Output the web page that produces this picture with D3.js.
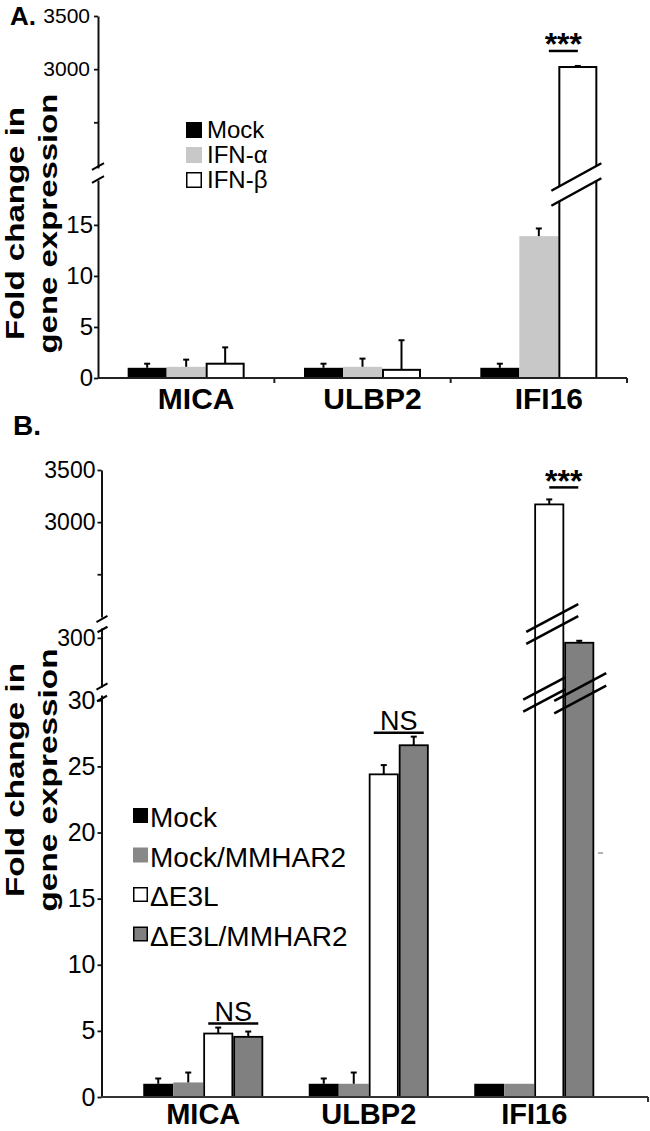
<!DOCTYPE html>
<html><head><meta charset="utf-8">
<script src="https://cdn.jsdelivr.net/npm/d3@7"></script>
<style>
body{margin:0;background:#fff}
svg{display:block}
text{font-family:"Liberation Sans", Arial, Helvetica, sans-serif;fill:#000}
</style>
</head><body>
<svg id="c" width="650" height="1131"></svg>
<script>
// ---------------- DATA ----------------
const categories = ["MICA", "ULBP2", "IFI16"];

// Panel A
const seriesA = ["Mock", "IFN-α", "IFN-β"];
const aMock     = [1.0, 1.0, 1.0];
const aMockErr  = [0.4, 0.4, 0.4];
const aIFNa     = [1.1, 1.1, 13.9];
const aIFNaErr  = [0.7, 0.8, 0.75];
const aIFNb     = [1.4, 0.8, 3020];
const aIFNbErr  = [1.6, 2.9, 10];
const aTicksLow  = [0, 5, 10, 15];
const aTicksHigh = [2500, 3000, 3500];

// Panel B
const seriesB = ["Mock", "Mock/MMHAR2", "ΔE3L", "ΔE3L/MMHAR2"];
const bMock      = [1.0, 1.0, 1.0];
const bMockErr   = [0.4, 0.4, 0];
const bMockMM    = [1.1, 1.0, 1.0];
const bMockMMErr = [0.75, 0.85, 0];
const bDE3L      = [4.8, 24.4, 3170];
const bDE3LErr   = [0.45, 0.7, 48];
const bDE3LMM    = [4.55, 26.6, 290];
const bDE3LMMErr = [0.4, 0.65, 4];
const bTicksLow  = [0, 5, 10, 15, 20, 25, 30];
const bTicksMid  = [300];
const bTicksHigh = [2500, 3000, 3500];

// ---------------- HELPERS ----------------
const svg = d3.select("#c");

function segScale(segs) {
  return v => {
    for (const s of segs) { const d = s.domain(); if (v >= d[0] && v <= d[1]) return s(v); }
    return segs[segs.length - 1](v);
  };
}
function drawAxisSeg(g, scale, ticks, x, fontSize, pad, hideVals) {
  const ax = d3.axisLeft(scale).tickValues(ticks).tickSize(4).tickSizeOuter(0).tickPadding(pad)
    .tickFormat(d => hideVals.includes(d) ? "" : d);
  const a = g.append("g").attr("transform", `translate(${x},0)`).call(ax);
  a.select(".domain").attr("stroke", "#111").attr("stroke-width", 2);
  a.selectAll(".tick line").attr("stroke", "#111").attr("stroke-width", 1.8);
  a.selectAll(".tick text").attr("font-size", fontSize).attr("fill", "#000")
    .style("font-family", '"Liberation Sans", Arial, sans-serif');
}
function slash(g, cx, cy, hw, s, w) {
  g.append("line").attr("x1", cx - hw).attr("y1", cy - s * hw).attr("x2", cx + hw).attr("y2", cy + s * hw)
    .attr("stroke", "#000").attr("stroke-width", w || 2.5);
}
function errBar(g, cx, y0, y1) {
  g.append("line").attr("x1", cx).attr("x2", cx).attr("y1", y0).attr("y2", y1).attr("stroke", "#000").attr("stroke-width", 2);
  g.append("line").attr("x1", cx - 3).attr("x2", cx + 3).attr("y1", y1).attr("y2", y1).attr("stroke", "#000").attr("stroke-width", 2);
}
function yTitle(g, x1, x2, cy, len1, len2) {
  g.append("text").attr("transform", `translate(${x1},${cy}) rotate(-90)`).attr("text-anchor", "middle")
    .attr("font-size", 25).attr("font-weight", "bold").attr("textLength", len1).attr("lengthAdjust", "spacingAndGlyphs")
    .text("Fold change in");
  g.append("text").attr("transform", `translate(${x2},${cy}) rotate(-90)`).attr("text-anchor", "middle")
    .attr("font-size", 26).attr("font-weight", "bold").attr("textLength", len2).attr("lengthAdjust", "spacingAndGlyphs")
    .text("gene expression");
}

// ================= PANEL A =================
const gA = svg.append("g");
const axA = 98, baseA = 378;
const yALow  = d3.scaleLinear().domain([0, 19.4]).range([baseA, 180]);
const yAHigh = d3.scaleLinear().domain([2070, 3500]).range([168, 16]);
const YA = segScale([yALow, yAHigh]);

const x0A = d3.scaleBand().domain(categories).range([axA, 627]).padding(0);
const bwA = x0A.bandwidth(), grpA = 117;
const x1A = d3.scaleBand().domain(seriesA).range([(bwA - grpA) / 2, (bwA + grpA) / 2]);

const colA = {"Mock": "#000", "IFN-α": "#c8c8c8", "IFN-β": "#fff"};
const strokeA = {"Mock": "none", "IFN-α": "none", "IFN-β": "#000"};
const valsA = {"Mock": aMock, "IFN-α": aIFNa, "IFN-β": aIFNb};
const errsA = {"Mock": aMockErr, "IFN-α": aIFNaErr, "IFN-β": aIFNbErr};

// bars
categories.forEach((c, i) => {
  seriesA.forEach(s => {
    const v = valsA[s][i], e = errsA[s][i];
    const x = x0A(c) + x1A(s), w = x1A.bandwidth();
    const sw = strokeA[s] === "none" ? 0 : 2;
    gA.append("rect").attr("x", x + sw / 2).attr("y", YA(v)).attr("width", w - sw)
      .attr("height", baseA - YA(v)).attr("fill", colA[s]).attr("stroke", strokeA[s]).attr("stroke-width", sw);
    if (e > 0) errBar(gA, x + w / 2, YA(v), YA(v + e));
    if (v > yALow.domain()[1]) {
      // break on bar
      const cx = x + w / 2 - 1.5, s1 = -0.55, hw = 25;
      const c1 = yAHigh.range()[0] + 9, c2 = yAHigh.range()[0] + 24;
      gA.append("polygon").attr("points", [
        [cx - hw, c1 - s1 * hw], [cx + hw, c1 + s1 * hw], [cx + hw, c2 + s1 * hw], [cx - hw, c2 - s1 * hw]
      ].map(p => p.join(",")).join(" ")).attr("fill", "#fff");
      slash(gA, cx, c1, hw, s1, 2.5);
      slash(gA, cx, c2, hw, s1, 2.5);
    }
  });
});

// axes
drawAxisSeg(gA, yAHigh, aTicksHigh, axA, 21, 4, [2500]);
drawAxisSeg(gA, yALow, aTicksLow, axA, 24, 1, []);
slash(gA, axA, 166.5, 6, -0.55, 2);
slash(gA, axA, 179.5, 6, -0.55, 2);

// x axis
gA.append("line").attr("x1", axA).attr("x2", 627).attr("y1", baseA).attr("y2", baseA).attr("stroke", "#222").attr("stroke-width", 2);
categories.forEach(c => {
  const xe = x0A(c) + bwA;
  gA.append("line").attr("x1", xe).attr("x2", xe).attr("y1", baseA).attr("y2", baseA + 5).attr("stroke", "#222").attr("stroke-width", 2);
  gA.append("text").attr("x", x0A(c) + bwA / 2 + 10).attr("y", 409).attr("text-anchor", "middle")
    .attr("font-size", 30).attr("font-weight", "bold").text(c);
});

// significance A
{
  const cxa = x0A("IFI16") + x1A("IFN-α") + x1A.bandwidth() / 2 + 10;
  const cxb = x0A("IFI16") + x1A("IFN-β") + x1A.bandwidth() / 2;
  const ly = YA(aIFNb[2] + aIFNbErr[2]) - 15;
  gA.append("line").attr("x1", cxa).attr("x2", cxb).attr("y1", ly).attr("y2", ly).attr("stroke", "#000").attr("stroke-width", 2.5);
  gA.append("text").attr("x", (cxa + cxb) / 2).attr("y", ly + 4).attr("text-anchor", "middle")
    .attr("font-size", 32).attr("font-weight", "bold").text("***");
}

// legend A
seriesA.forEach((s, i) => {
  const y = 122 + i * 25;
  const sw = strokeA[s] === "none" ? 0 : 1.5;
  gA.append("rect").attr("x", 186 + sw / 2).attr("y", y + sw / 2).attr("width", 16 - sw).attr("height", 16 - sw)
    .attr("fill", colA[s]).attr("stroke", strokeA[s]).attr("stroke-width", sw);
  gA.append("text").attr("x", 207).attr("y", y + 16).attr("font-size", 24).text(s);
});

// titles A
gA.append("text").attr("x", 10).attr("y", 25).attr("font-size", 26).attr("font-weight", "bold").text("A.");
yTitle(gA, 24, 57, 223.5, 233, 260);

// ================= PANEL B =================
const gB = svg.append("g");
const axB = 101.5, baseB = 1097;
const yBLow  = d3.scaleLinear().domain([0, 30.4]).range([baseB, 695]);
const yBMid  = d3.scaleLinear().domain([200, 320]).range([687, 628]);
const yBHigh = d3.scaleLinear().domain([2090, 3500]).range([617, 470]);
const YB = segScale([yBLow, yBMid, yBHigh]);

const x0B = d3.scaleBand().domain(categories).range([120.5, 617]).padding(0);
const bwB = x0B.bandwidth(), grpB = 120;
const x1B = d3.scaleBand().domain(seriesB).range([(bwB - grpB) / 2, (bwB + grpB) / 2]);

const colB = {"Mock": "#000", "Mock/MMHAR2": "#888888", "ΔE3L": "#fff", "ΔE3L/MMHAR2": "#808080"};
const strokeB = {"Mock": "none", "Mock/MMHAR2": "none", "ΔE3L": "#000", "ΔE3L/MMHAR2": "#000"};
const valsB = {"Mock": bMock, "Mock/MMHAR2": bMockMM, "ΔE3L": bDE3L, "ΔE3L/MMHAR2": bDE3LMM};
const errsB = {"Mock": bMockErr, "Mock/MMHAR2": bMockMMErr, "ΔE3L": bDE3LErr, "ΔE3L/MMHAR2": bDE3LMMErr};

const breaksB = [];
categories.forEach((c, i) => {
  seriesB.forEach(s => {
    const v = valsB[s][i], e = errsB[s][i];
    const x = x0B(c) + x1B(s), w = x1B.bandwidth();
    const sw = strokeB[s] === "none" ? 0 : 1.8;
    gB.append("rect").attr("x", x + sw / 2).attr("y", YB(v)).attr("width", w - sw)
      .attr("height", baseB - YB(v)).attr("fill", colB[s]).attr("stroke", strokeB[s]).attr("stroke-width", sw);
    if (e > 0) errBar(gB, x + w / 2, YB(v), YB(v + e));
    const cx = x + w / 2;
    if (v > yBMid.domain()[1]) {
      breaksB.push([cx + 3, yBHigh.range()[0] + 1, 26]);
      breaksB.push([cx + 3, yBHigh.range()[0] + 13, 26]);
      breaksB.push([cx - 5, yBMid.range()[0] + 1.5, 21]);
      breaksB.push([cx - 5, yBMid.range()[0] + 13.5, 21]);
    } else if (v > yBLow.domain()[1]) {
      breaksB.push([cx + 1, yBMid.range()[0], 26]);
      breaksB.push([cx + 1, yBMid.range()[0] + 12.5, 26]);
    }
  });
});
breaksB.forEach(b => slash(gB, b[0], b[1], b[2], -0.53, 2.6));

// axes B
drawAxisSeg(gB, yBHigh, bTicksHigh, axB, 23, 2, [2500]);
drawAxisSeg(gB, yBMid, bTicksMid, axB, 23, 2, []);
drawAxisSeg(gB, yBLow, bTicksLow, axB, 25, 2, []);
slash(gB, 102, 619, 5.5, -0.55, 2);
slash(gB, 102.5, 629.5, 5, -0.55, 2);
slash(gB, 102, 686.5, 5.5, -0.55, 2);
slash(gB, 102, 698.5, 5, -0.55, 2);

gB.append("line").attr("x1", axB).attr("x2", 648).attr("y1", baseB).attr("y2", baseB).attr("stroke", "#333").attr("stroke-width", 2);
gB.append("line").attr("x1", 648).attr("x2", 648).attr("y1", baseB).attr("y2", baseB + 5).attr("stroke", "#333").attr("stroke-width", 2);
categories.forEach(c => {
  gB.append("text").attr("x", x0B(c) + bwB / 2).attr("y", 1124).attr("text-anchor", "middle")
    .attr("font-size", 29).attr("font-weight", "bold").text(c);
});
// stray tick mark in the original
gB.append("line").attr("x1", 598).attr("x2", 603).attr("y1", 853).attr("y2", 853).attr("stroke", "#666").attr("stroke-width", 1);

// significance B
function sigB(cat, label, inset, bold, fs, gapUp, narrow) {
  const i = categories.indexOf(cat);
  let xa, xb;
  if (narrow) {
    xa = x0B(cat) + x1B("ΔE3L") + x1B.bandwidth() / 2;
    xb = x0B(cat) + x1B("ΔE3L/MMHAR2") + x1B.bandwidth() / 2 - 1;
  } else {
    xa = x0B(cat) + x1B("ΔE3L") + inset;
    xb = x0B(cat) + x1B("ΔE3L/MMHAR2") + x1B.bandwidth() - inset;
  }
  const top = Math.min(YB(bDE3L[i] + bDE3LErr[i]), YB(bDE3LMM[i] + bDE3LMMErr[i]));
  const ly = top - gapUp;
  gB.append("line").attr("x1", xa).attr("x2", xb).attr("y1", ly).attr("y2", ly).attr("stroke", "#000").attr("stroke-width", 2.5);
  gB.append("text").attr("x", (xa + xb) / 2).attr("y", bold ? ly + 5 : ly - 2.5).attr("text-anchor", "middle")
    .attr("font-size", fs).attr("font-weight", bold ? "bold" : "normal").text(label);
}
sigB("MICA", "NS", 5, false, 27, 4, false);
sigB("ULBP2", "NS", 5, false, 27, 4, false);
sigB("IFI16", "***", 0, true, 32, 12, true);

// legend B
seriesB.forEach((s, i) => {
  const y = 808 + i * 39.5;
  const sw = strokeB[s] === "none" ? 0 : 1.5;
  gB.append("rect").attr("x", 133 + sw / 2).attr("y", y + sw / 2).attr("width", 15 - sw).attr("height", 15 - sw)
    .attr("fill", colB[s]).attr("stroke", strokeB[s]).attr("stroke-width", sw);
  gB.append("text").attr("x", 150).attr("y", y + 19).attr("font-size", 28).text(s);
});

// titles B
gB.append("text").attr("x", 13).attr("y", 435).attr("font-size", 28).attr("font-weight", "bold").text("B.");
yTitle(gB, 24, 57, 780, 234, 263);
</script>
</body></html>
